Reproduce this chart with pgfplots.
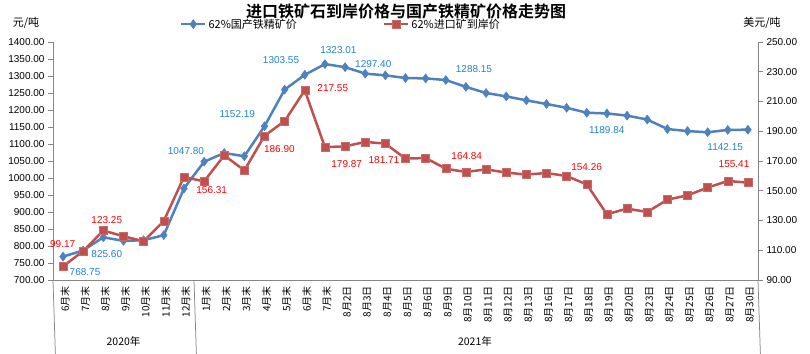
\documentclass[border=0pt]{standalone}
\usepackage{fontspec}
\setmainfont{Liberation Sans}
\newfontfamily\cjk[BoldFont={Noto Sans CJK SC Bold}]{Noto Sans CJK SC}
\usepackage{pgfplots}
\usepackage{pgfplotstable}
\pgfplotsset{compat=1.18}
\definecolor{bl}{HTML}{4F81BD}
\definecolor{rd}{HTML}{C0504D}
\definecolor{axg}{HTML}{868686}
\definecolor{lblb}{HTML}{1E82D2}
\definecolor{lblr}{HTML}{FF0000}

\pgfplotstableread{
i v
0 768.75
1 787
2 825.60
3 815
4 817
5 832
6 969
7 1047.80
8 1073.5
9 1064
10 1152.19
11 1260
12 1303.55
13 1335
14 1326
15 1307
16 1302
17 1294
18 1293
19 1288.15
20 1268
21 1250
22 1240
23 1228.5
24 1217.6
25 1206.5
26 1192
27 1189.84
28 1183.5
29 1172
30 1144
31 1138
32 1134.5
33 1141.5
34 1142.15
}\domestic

\pgfplotstableread{
i v
0 99.17
1 109.5
2 123.25
3 119.4
4 116
5 129.7
6 159.2
7 156.31
8 173.8
9 163.7
10 186.90
11 196.9
12 217.55
13 179.3
14 179.87
15 182.8
16 181.71
17 171.6
18 172.0
19 164.84
20 162.6
21 164.4
22 162.2
23 160.9
24 161.9
25 159.9
26 154.26
27 134.2
28 138.0
29 135.7
30 144.0
31 146.9
32 152.1
33 156.6
34 155.41
}\imported

\pgfplotsset{
  common/.style={
    scale only axis, width=705bp, height=238bp,
    at={(53bp,74bp)}, anchor=south west,
    xmin=-0.5, xmax=34.5,
    clip=false,
    axis line style={draw=axg, line width=0.75bp},
    tick style={draw=axg, line width=0.75bp},
    major tick length=5bp,
    tick align=outside,
    yticklabel style={font=\fontsize{10bp}{12bp}\selectfont, text=black},
    /pgf/number format/.cd, fixed, fixed zerofill, precision=2, 1000 sep={}, assume math mode=true,
  },
}

\begin{document}
\begin{tikzpicture}
\path[use as bounding box] (0,0) rectangle (810bp,354bp);
\begin{axis}[common,
  axis lines*=left,
  ymin=700, ymax=1400,
  ytick={700,750,...,1400},
  xtick={0,...,34},
  xtick style={draw=none},
  minor xtick={-0.5,0.5,...,34.5},
  minor tick length=39bp,
  xticklabels={6月末,7月末,8月末,9月末,10月末,11月末,12月末,1月末,2月末,3月末,4月末,5月末,6月末,7月末,8月2日,8月3日,8月4日,8月5日,8月6日,8月9日,8月10日,8月11日,8月12日,8月13日,8月16日,8月17日,8月18日,8月19日,8月20日,8月23日,8月24日,8月25日,8月26日,8月27日,8月30日},
  xticklabel style={rotate=90, anchor=east, inner sep=1bp, yshift=-2bp, font=\cjk\fontsize{10bp}{12bp}\selectfont},
]
\addplot[bl, line width=2.5bp, mark=diamond*, mark size=4.5bp, mark options={fill=bl, draw=bl, line width=0.5bp}] table[x=i, y=v] {\domestic};

\draw[axg, line width=0.75bp] (axis cs:-0.5,700) -- ++(0,-74bp);
\draw[axg, line width=0.75bp] (axis cs:6.5,700) -- ++(0,-74bp);
\draw[axg, line width=0.75bp] (axis cs:34.5,700) -- ++(0,-74bp);
\node[font=\cjk\fontsize{10.5bp}{12bp}\selectfont] at ([yshift=-61bp]axis cs:3,700) {2020年};
\node[font=\cjk\fontsize{10.5bp}{12bp}\selectfont] at ([yshift=-61bp]axis cs:20.45,700) {2021年};

\begin{scope}[every node/.style={font=\fontsize{10bp}{12bp}\selectfont, inner sep=0pt}]
\node[text=lblb] at (axis cs:1.09,723.5) {768.75};
\node[text=lblb] at (axis cs:2.17,777.6) {825.60};
\node[text=lblb] at (axis cs:6.10,1079.4) {1047.80};
\node[text=lblb] at (axis cs:8.65,1189.4) {1152.19};
\node[text=lblb] at (axis cs:10.82,1346.2) {1303.55};
\node[text=lblb] at (axis cs:13.67,1375.6) {1323.01};
\node[text=lblb] at (axis cs:15.40,1336.5) {1297.40};
\node[text=lblb] at (axis cs:20.40,1321.8) {1288.15};
\node[text=lblb] at (axis cs:26.99,1140.3) {1189.84};
\node[text=lblb] at (axis cs:32.87,1091.2) {1142.15};
\node[text=lblr] at (axis cs:-0.02,807.1) {99.17};
\node[text=lblr] at (axis cs:2.17,875.6) {123.25};
\node[text=lblr] at (axis cs:7.38,963.8) {156.31};
\node[text=lblr] at (axis cs:10.74,1086.5) {186.90};
\node[text=lblr] at (axis cs:13.39,1264.7) {217.55};
\node[text=lblr] at (axis cs:14.08,1042.4) {179.87};
\node[text=lblr] at (axis cs:15.93,1054.1) {181.71};
\node[text=lblr] at (axis cs:20.04,1064.7) {164.84};
\node[text=lblr] at (axis cs:25.99,1032.4) {154.26};
\node[text=lblr] at (axis cs:33.31,1040.3) {155.41};
\end{scope}
\end{axis}

\begin{axis}[common,
  axis y line*=right, axis x line=none,
  ymin=90, ymax=250,
  ytick={90,110,...,250},
  legend style={at={(0.18,1.075)}, anchor=west, draw=none, fill=none, inner sep=0pt,
    font=\cjk\fontsize{11bp}{13bp}\selectfont,
    /tikz/every even column/.append style={column sep=84bp},
    legend cell align=left},
  legend columns=2,
  legend image code/.code={\draw[mark repeat=2, mark phase=2] plot coordinates {(0bp,0bp) (12bp,0bp) (24bp,0bp)};},
]
\addlegendimage{bl, line width=2.5bp, mark=diamond*, mark size=4.5bp, mark options={fill=bl, draw=bl, line width=0.5bp}}
\addlegendentry{62\%国产铁精矿价}
\addplot[rd, line width=2.5bp, mark=square*, mark size=4bp, mark options={fill=rd, draw=rd!85!white, line width=0.5bp}] table[x=i, y=v] {\imported};
\addlegendentry{62\%进口矿到岸价}
\end{axis}

\node[font=\cjk\bfseries\fontsize{16bp}{18bp}\selectfont] at (406bp,343bp) {进口铁矿石到岸价格与国产铁精矿价格走势图};
\node[font=\cjk\fontsize{11bp}{13bp}\selectfont] at (26bp,331bp) {元/吨};
\node[font=\cjk\fontsize{11bp}{13bp}\selectfont] at (762bp,331bp) {美元/吨};
\end{tikzpicture}
\end{document}
